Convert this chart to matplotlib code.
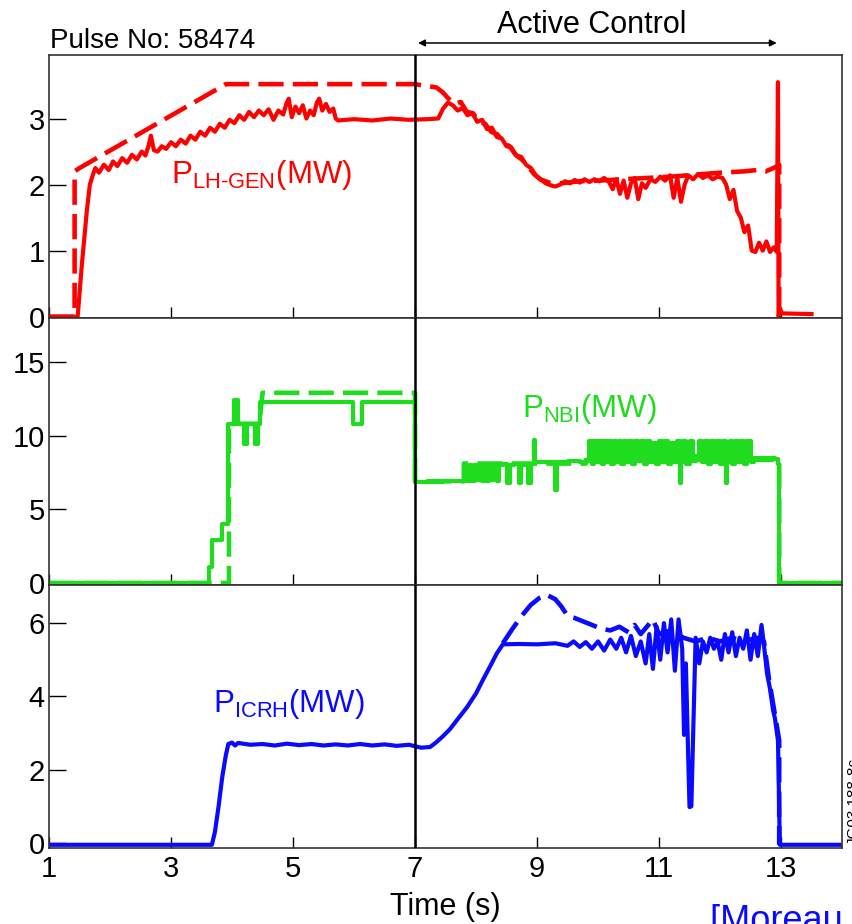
#%% Imports

import matplotlib
matplotlib.use('Agg')
import matplotlib.pyplot as plt

plt.rcParams['font.family'] = ['Liberation Sans', 'DejaVu Sans']
plt.rcParams['mathtext.fontset'] = 'custom'
plt.rcParams['mathtext.rm'] = 'Liberation Sans'


#%% Data

# P_LH-GEN measured (solid) and reference (dashed), MW
lh_t = [1.0, 1.47, 1.5, 1.54, 1.58, 1.62, 1.67, 1.72, 1.76, 1.82,
        1.9, 1.98, 2.05, 2.12, 2.2, 2.28, 2.36, 2.44, 2.52, 2.58,
        2.63, 2.67, 2.72, 2.78, 2.85, 2.92, 3.0, 3.08, 3.16, 3.24,
        3.32, 3.4, 3.48, 3.56, 3.64, 3.72, 3.8, 3.88, 3.96, 4.04,
        4.12, 4.2, 4.28, 4.36, 4.44, 4.52, 4.6, 4.68, 4.76, 4.84,
        4.89, 4.93, 4.98, 5.04, 5.1, 5.16, 5.22, 5.28, 5.34, 5.39,
        5.43, 5.48, 5.54, 5.6, 5.66, 5.7, 5.74, 6.0, 6.3, 6.6,
        6.9, 7.2, 7.38, 7.46, 7.54, 7.62, 7.7, 7.78, 7.86, 7.94,
        8.02, 8.1, 8.18, 8.26, 8.34, 8.42, 8.5, 8.58, 8.66, 8.74,
        8.82, 8.9, 8.98, 9.06, 9.14, 9.22, 9.3, 9.38, 9.46, 9.54,
        9.62, 9.7, 9.78, 9.86, 9.94, 10.02, 10.1, 10.18, 10.24, 10.3,
        10.36, 10.42, 10.48, 10.54, 10.6, 10.66, 10.72, 10.78, 10.86, 10.94,
        11.02, 11.1, 11.18, 11.24, 11.3, 11.36, 11.42, 11.48, 11.56, 11.64,
        11.72, 11.8, 11.88, 11.96, 12.04, 12.1, 12.16, 12.22, 12.28, 12.34,
        12.4, 12.46, 12.52, 12.58, 12.64, 12.7, 12.76, 12.82, 12.88, 12.93,
        12.95, 12.96, 12.98, 13.02, 13.5]
lh_p = [0.0, 0.0, 0.35, 0.8, 1.2, 1.6, 2.0, 2.15, 2.25, 2.18,
        2.3, 2.22, 2.35, 2.28, 2.4, 2.33, 2.45, 2.38, 2.5, 2.44,
        2.58, 2.74, 2.52, 2.5, 2.58, 2.54, 2.64, 2.58, 2.68, 2.62,
        2.74, 2.68, 2.8, 2.74, 2.86, 2.8, 2.92, 2.86, 2.98, 2.93,
        3.05, 2.98, 3.1, 3.02, 3.12, 3.05, 3.14, 2.98, 3.12, 3.06,
        3.22, 3.3, 3.02, 3.18, 3.08, 3.2, 3.0, 3.12, 3.05, 3.24,
        3.3, 3.12, 3.22, 3.1, 3.15, 3.0, 2.97, 2.99, 2.97, 3.0,
        2.98, 2.99, 3.0, 3.15, 3.24, 3.2, 3.12, 3.16, 3.05, 3.08,
        2.95, 2.98, 2.84, 2.86, 2.72, 2.7, 2.58, 2.56, 2.44, 2.42,
        2.3, 2.25, 2.14, 2.08, 2.02, 1.99, 1.97, 2.0, 2.05, 2.02,
        2.07, 2.03, 2.08, 2.04, 2.08, 2.05, 2.1, 2.04, 1.93, 2.08,
        1.86, 2.06, 1.8, 2.02, 2.1, 1.78, 2.02, 1.95, 2.08, 2.04,
        2.12, 2.06, 2.14, 1.8, 2.1, 1.74, 2.0, 2.14, 2.08, 2.16,
        2.1, 2.14, 2.08, 2.12, 2.1, 2.0, 1.78, 1.92, 1.6, 1.5,
        1.28, 1.38, 1.0, 0.98, 1.12, 1.0, 1.14, 0.98, 1.05, 0.98,
        3.55, 0.0, 0.12, 0.05, 0.04]

lh_ref_t = [1.0, 1.42, 1.42, 1.5, 3.9, 7.0, 7.35, 7.45, 7.55, 7.65,
            7.75, 7.85, 7.95, 8.05, 8.15, 8.25, 8.35, 8.45, 8.55, 8.65,
            8.75, 8.85, 8.95, 9.05, 9.2, 9.4, 9.7, 10.0, 10.4, 10.8,
            11.2, 11.6, 12.0, 12.4, 12.6, 12.75, 12.9, 12.97, 12.97]
lh_ref_p = [0.0, 0.0, 2.2, 2.25, 3.52, 3.52, 3.47, 3.4, 3.3, 3.22,
            3.25, 3.1, 3.08, 2.95, 2.92, 2.8, 2.76, 2.63, 2.58, 2.45,
            2.38, 2.28, 2.16, 2.08, 2.03, 2.02, 2.05, 2.06, 2.08, 2.1,
            2.12, 2.15, 2.18, 2.2, 2.22, 2.2, 2.26, 2.3, 0.0]

# P_NBI measured (solid) and reference (dashed), MW
nbi_t = [1.0, 3.6, 3.62, 3.67, 3.68, 3.82, 3.84, 3.9, 3.93, 4.02,
         4.03, 4.09, 4.1, 4.18, 4.19, 4.23, 4.24, 4.37, 4.38, 4.42,
         4.43, 4.46, 5.98, 5.99, 6.12, 6.13, 7.0, 7.0, 7.45, 7.46,
         7.8, 7.82, 7.86, 7.9, 7.94, 7.98, 8.02, 8.06, 8.1, 8.14,
         8.18, 8.22, 8.26, 8.3, 8.34, 8.38, 8.44, 8.5, 8.56, 8.62,
         8.7, 8.74, 8.8, 8.86, 8.9, 8.95, 8.97, 9.0, 9.28, 9.3,
         9.33, 9.5, 9.7, 9.82, 9.86, 9.9, 9.94, 9.98, 10.02, 10.06,
         10.1, 10.14, 10.18, 10.22, 10.26, 10.3, 10.34, 10.38, 10.42, 10.46,
         10.5, 10.55, 10.6, 10.65, 10.7, 10.75, 10.8, 10.85, 10.9, 10.95,
         11.0, 11.05, 11.1, 11.15, 11.2, 11.25, 11.3, 11.34, 11.36, 11.4,
         11.45, 11.5, 11.55, 11.6, 11.65, 11.7, 11.75, 11.8, 11.85, 11.9,
         11.95, 12.0, 12.05, 12.1, 12.12, 12.16, 12.2, 12.25, 12.3, 12.35,
         12.4, 12.45, 12.5, 12.55, 12.9, 12.95, 12.97, 14.0]
nbi_p = [0.0, 0.0, 1.1, 1.1, 2.9, 2.9, 4.0, 4.0, 10.8, 10.8,
         12.4, 12.4, 10.8, 10.8, 9.4, 9.4, 10.8, 10.8, 9.4, 9.4,
         10.8, 12.3, 12.3, 10.8, 10.8, 12.3, 12.3, 6.85, 6.85, 6.95,
         6.95, 8.0, 6.9, 8.0, 6.9, 8.0, 7.0, 8.0, 6.9, 8.0,
         6.9, 8.0, 7.0, 8.0, 6.9, 8.0, 8.05, 6.8, 8.0, 8.05,
         6.8, 8.0, 8.05, 6.8, 8.1, 9.7, 8.2, 8.2, 8.2, 6.3,
         8.2, 8.25, 8.2, 8.3, 9.6, 8.1, 9.6, 8.2, 9.6, 8.1,
         9.6, 8.2, 9.6, 8.1, 9.6, 8.2, 9.6, 8.1, 9.6, 8.2,
         9.6, 8.1, 9.6, 8.3, 9.6, 8.1, 9.6, 8.2, 9.5, 8.1,
         9.6, 8.2, 9.6, 8.1, 9.5, 8.2, 9.6, 6.8, 8.2, 9.6,
         8.1, 9.6, 8.3, 8.6, 9.6, 8.2, 9.6, 8.1, 9.6, 8.2,
         9.6, 8.1, 9.6, 6.8, 8.2, 9.6, 8.1, 9.6, 8.2, 9.6,
         8.1, 9.6, 8.2, 8.5, 8.4, 8.1, 0.0, 0.0]

nbi_ref_t = [1.0, 3.95, 3.95, 4.45, 4.5, 7.0, 7.0, 7.8, 7.8, 9.8, 9.8, 12.97, 12.97, 14.0]
nbi_ref_p = [0.0, 0.0, 10.8, 10.8, 12.9, 12.9, 6.9, 6.9, 8.1, 8.1, 8.35, 8.35, 0.0, 0.0]

# P_ICRH measured (solid) and reference (dashed), MW
icrh_t = [1.0, 3.67, 3.72, 3.78, 3.84, 3.9, 3.94, 4.0, 4.05, 4.1,
          4.3, 4.5, 4.7, 4.9, 5.1, 5.3, 5.5, 5.7, 5.9, 6.1,
          6.3, 6.5, 6.7, 6.9, 7.1, 7.25, 7.35, 7.45, 7.57, 7.7,
          7.85, 8.0, 8.11, 8.25, 8.34, 8.44, 8.7, 9.0, 9.3, 9.5,
          9.6, 9.7, 9.8, 9.9, 10.0, 10.1, 10.2, 10.3, 10.38, 10.46,
          10.54, 10.62, 10.7, 10.78, 10.84, 10.9, 10.96, 11.02, 11.08, 11.14,
          11.2, 11.26, 11.32, 11.38, 11.41, 11.44, 11.47, 11.5, 11.53, 11.56,
          11.6, 11.66, 11.72, 11.78, 11.84, 11.9, 11.96, 12.02, 12.08, 12.14,
          12.2, 12.26, 12.32, 12.38, 12.44, 12.5, 12.56, 12.62, 12.68, 12.72,
          12.77, 12.82, 12.87, 12.9, 12.95, 12.98, 14.0]
icrh_p = [-0.05, -0.05, 0.3, 1.0, 1.8, 2.4, 2.7, 2.74, 2.66, 2.73,
          2.68, 2.7, 2.66, 2.71, 2.67, 2.7, 2.66, 2.69, 2.66, 2.7,
          2.66, 2.69, 2.65, 2.68, 2.6, 2.62, 2.75, 2.9, 3.1, 3.38,
          3.7, 4.08, 4.44, 4.88, 5.17, 5.42, 5.43, 5.42, 5.45, 5.38,
          5.5, 5.35, 5.48, 5.3, 5.5, 5.25, 5.55, 5.3, 5.6, 5.2,
          5.65, 5.1, 5.5, 4.9, 5.7, 4.75, 5.9, 5.0, 6.0, 5.2,
          6.1, 4.7, 6.1, 5.3, 2.95, 4.9, 2.9, 0.98, 1.0, 3.0,
          5.6, 4.9, 5.5, 5.2, 5.6, 5.3, 5.5, 5.0, 5.7, 5.2,
          5.75, 5.1, 5.6, 5.3, 5.8, 5.0, 5.7, 5.1, 5.95, 5.4,
          4.63, 4.2, 3.62, 3.4, 2.8, -0.05, -0.05]

icrh_ref_t = [8.44, 8.6, 8.75, 8.9, 9.05, 9.15, 9.3, 9.4, 9.5, 9.6,
              9.75, 9.9, 10.05, 10.2, 10.35, 10.5, 10.6, 10.7, 10.8, 10.9,
              11.0, 11.2, 11.4, 11.6, 11.8, 12.0, 12.2, 12.4, 12.6, 12.72,
              12.8, 12.9, 12.97, 12.97]
icrh_ref_p = [5.45, 5.85, 6.2, 6.5, 6.7, 6.78, 6.65, 6.45, 6.2, 6.15,
              6.05, 5.95, 5.85, 5.8, 5.9, 5.75, 5.95, 5.7, 5.9, 6.1,
              5.7, 5.8, 5.6, 5.5, 5.6, 5.5, 5.6, 5.5, 5.6, 5.5,
              4.5, 3.5, 2.8, -0.05]

x_ticks = [1, 3, 5, 7, 9, 11, 13]
yticks_lh = [0, 1, 2, 3]
yticks_nbi = [0, 5, 10, 15]
yticks_icrh = [0, 2, 4, 6]


#%% Chart

red = '#ff0000'
green = '#1fdc1f'
blue = '#0a0aff'
dash = (0, (5.5, 2.0))

fig = plt.figure(figsize=(8.52, 9.24), dpi=100)

left, width = 0.0575, 0.9308
ax1 = fig.add_axes([left, 0.6558, width, 0.2846])
ax2 = fig.add_axes([left, 0.3669, width, 0.2889])
ax3 = fig.add_axes([left, 0.0823, width, 0.2846])

ax1.plot(lh_ref_t, lh_ref_p, color=red, lw=3.3, ls=dash)
ax1.plot(lh_t, lh_p, color=red, lw=3.0)
ax2.plot(nbi_ref_t, nbi_ref_p, color=green, lw=3.3, ls=dash)
ax2.plot(nbi_t, nbi_p, color=green, lw=3.0, drawstyle='steps-post')
ax3.plot(icrh_ref_t, icrh_ref_p, color=blue, lw=3.3, ls=dash)
ax3.plot(icrh_t, icrh_p, color=blue, lw=3.0)

ax1.set_ylim(-0.02, 3.96)
ax2.set_ylim(-0.135, 17.97)
ax3.set_ylim(-0.136, 7.04)
ax1.set_yticks(yticks_lh)
ax2.set_yticks(yticks_nbi)
ax3.set_yticks(yticks_icrh)

for ax in (ax1, ax2, ax3):
    ax.set_xlim(1, 14)
    ax.set_xticks(x_ticks)
    ax.axvline(7, color='black', lw=1.8, zorder=5)
    ax.tick_params(axis='y', direction='in', length=12, width=1, labelsize=21, pad=3)
    ax.tick_params(axis='x', direction='in', length=8, width=1, labelsize=21, pad=5)
    for s in ax.spines.values():
        s.set_color('#333333')
        s.set_linewidth(1.2)

ax1.tick_params(axis='x', labelbottom=False)
ax2.tick_params(axis='x', labelbottom=False)

# Labels
ax1.text(3.0, 2.03, 'P$_{\\mathregular{LH\u2010GEN}}$(MW)', color=red, fontsize=22.5)
ax2.text(8.75, 11.25, r'P$_{\mathregular{NBI}}$(MW)', color=green, fontsize=22.5)
ax3.text(3.69, 3.57, r'P$_{\mathregular{ICRH}}$(MW)', color=blue, fontsize=22.5)

xtr = ax1.get_xaxis_transform()
ax1.text(1.02, 1.026, 'Pulse No: 58474', transform=xtr,
         fontsize=20, va='baseline', ha='left')
ax1.text(9.9, 1.083, 'Active Control', transform=xtr,
         fontsize=22, va='baseline', ha='center')
ax1.annotate('', xy=(12.93, 1.046), xytext=(7.05, 1.046),
             xycoords=xtr, textcoords=xtr,
             arrowprops=dict(arrowstyle='<|-|>', color='black', lw=1.1,
                             mutation_scale=10, shrinkA=0, shrinkB=0),
             annotation_clip=False)

fig.text(0.5223, 0.0097, 'Time (s)', fontsize=22, ha='center', va='baseline')
fig.text(0.8333, -0.0076, '[Moreau et al.]', fontsize=26, color=blue,
         ha='left', va='baseline')
fig.text(0.994, 0.0855, 'JG03.188-8c', fontsize=11, rotation=90,
         ha='left', va='bottom')

fig.savefig('out.png', dpi=100)
